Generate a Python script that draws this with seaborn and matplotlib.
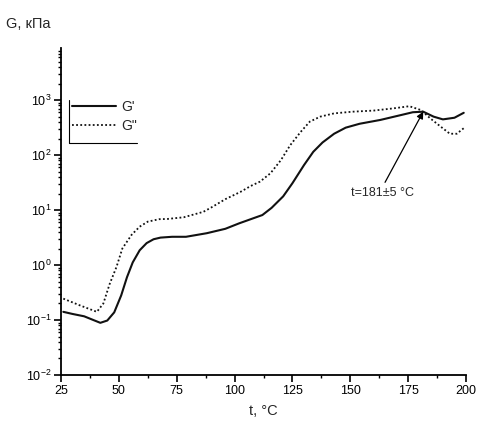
import matplotlib
matplotlib.use("Agg")
import matplotlib.pyplot as plt
import matplotlib.ticker as mticker
from matplotlib.lines import Line2D
import numpy as np
import pandas as pd
import seaborn as sns

# Storage modulus G' (kPa) versus temperature
t_g1 = [26, 30, 35, 39, 42, 45, 48, 51, 53.5, 56, 59, 62, 65, 68, 73, 79, 88, 96,
        102, 108, 112, 116, 121, 125, 130, 134, 138, 143, 148, 154, 163, 171, 177,
        181.5, 186, 190, 195, 199]
g1 = [0.141, 0.129, 0.117, 0.100, 0.089, 0.098, 0.138, 0.28, 0.60, 1.12, 1.86, 2.51,
      2.95, 3.16, 3.27, 3.27, 3.80, 4.57, 5.75, 7.08, 8.13, 11.0, 17.8, 30.9, 66,
      115, 170, 245, 316, 372, 437, 525, 603, 617, 501, 447, 479, 589]

# Loss modulus G'' (kPa) versus temperature
t_g2 = [26, 33, 40.5, 43.3, 46, 49, 51.5, 55.5, 59, 62.5, 67.5, 71, 78, 86.5, 90, 96,
        102.5, 107, 111, 115.5, 120, 124, 128.5, 132.5, 137, 143, 151, 160, 168.5,
        175.5, 180.5, 184.5, 189, 193, 196, 199]
g2 = [0.245, 0.186, 0.141, 0.20, 0.45, 0.93, 2.0, 3.55, 5.0, 6.17, 6.84, 6.9, 7.4,
      9.3, 11.2, 15.8, 21.4, 27.5, 33, 46.8, 81, 151, 263, 407, 501, 575, 617, 646,
      708, 776, 661, 468, 331, 245, 245, 309]

x_ticks = [25, 50, 75, 100, 125, 150, 175, 200]
crossover = (181.5, 617)
crossover_label = "t=181\u00b15 \u00b0C"

sns.set_theme(style="ticks")
plt.rcParams["font.family"] = ["Liberation Sans", "DejaVu Sans"]
plt.rcParams["mathtext.fontset"] = "custom"
plt.rcParams["mathtext.rm"] = "Liberation Sans"
plt.rcParams["mathtext.it"] = "Liberation Sans:italic"

fig = plt.figure(figsize=(4.78, 4.28), dpi=100)
ax = fig.add_axes([0.1276, 0.1238, 0.8474, 0.7642])

df1 = pd.DataFrame({"t": t_g1, "G": g1})
df2 = pd.DataFrame({"t": t_g2, "G": g2})
sns.lineplot(data=df1, x="t", y="G", ax=ax, color="#111111", lw=1.5,
             linestyle="-", sort=True)
sns.lineplot(data=df2, x="t", y="G", ax=ax, color="#111111", lw=1.3,
             linestyle=(0, (1, 1.3)), sort=True)

ax.set_yscale("log")
ax.set_xlim(25, 200)
ax.set_ylim(1e-2, 10 ** 3.95)
ax.set_xticks(x_ticks)
ax.xaxis.set_minor_locator(mticker.MultipleLocator(12.5))
ax.yaxis.set_major_locator(mticker.LogLocator(base=10, numticks=10))
ax.yaxis.set_minor_locator(mticker.LogLocator(base=10, subs=np.arange(2, 10), numticks=20))
ax.yaxis.set_minor_formatter(mticker.NullFormatter())

for side in ("top", "right"):
    ax.spines[side].set_visible(False)
for side in ("left", "bottom"):
    ax.spines[side].set_linewidth(1.3)
    ax.spines[side].set_color("black")

ax.tick_params(axis="both", which="major", direction="out", length=5, width=1.2,
               labelsize=9, colors="black", pad=2)
ax.tick_params(axis="both", which="minor", direction="out", length=2.5, width=1.0,
               colors="black")

ax.set_xlabel("t, \u00b0C", fontsize=10.5, labelpad=5)
ax.set_ylabel("")
fig.text(0.012, 0.945, "G, \u043a\u041f\u0430", fontsize=10.5, ha="left", va="center")

# Crossover point marked with an arrow
ax.annotate("", xy=crossover, xytext=(165, 32),
            arrowprops=dict(arrowstyle="-|>", color="black", lw=0.9,
                            mutation_scale=10, shrinkA=0, shrinkB=0))
ax.text(164, 20.5, crossover_label, fontsize=9, ha="center", va="center")

# Legend with left and bottom edges only
handles = [Line2D([], [], color="#111111", lw=1.5, linestyle="-"),
           Line2D([], [], color="#111111", lw=1.3, linestyle=(0, (1, 1.3)))]
fig.legend(handles, ["G'", "G\""], loc="upper left",
           bbox_to_anchor=(0.138, 0.78), frameon=False, fontsize=10,
           handlelength=3.2, handletextpad=0.4, labelspacing=0.35,
           borderaxespad=0)
fig.add_artist(Line2D([0.145, 0.145], [0.766, 0.666], color="black", lw=0.8,
                      transform=fig.transFigure))
fig.add_artist(Line2D([0.145, 0.286], [0.666, 0.666], color="black", lw=0.8,
                      transform=fig.transFigure))

fig.savefig("out.png", dpi=100, facecolor="white")
